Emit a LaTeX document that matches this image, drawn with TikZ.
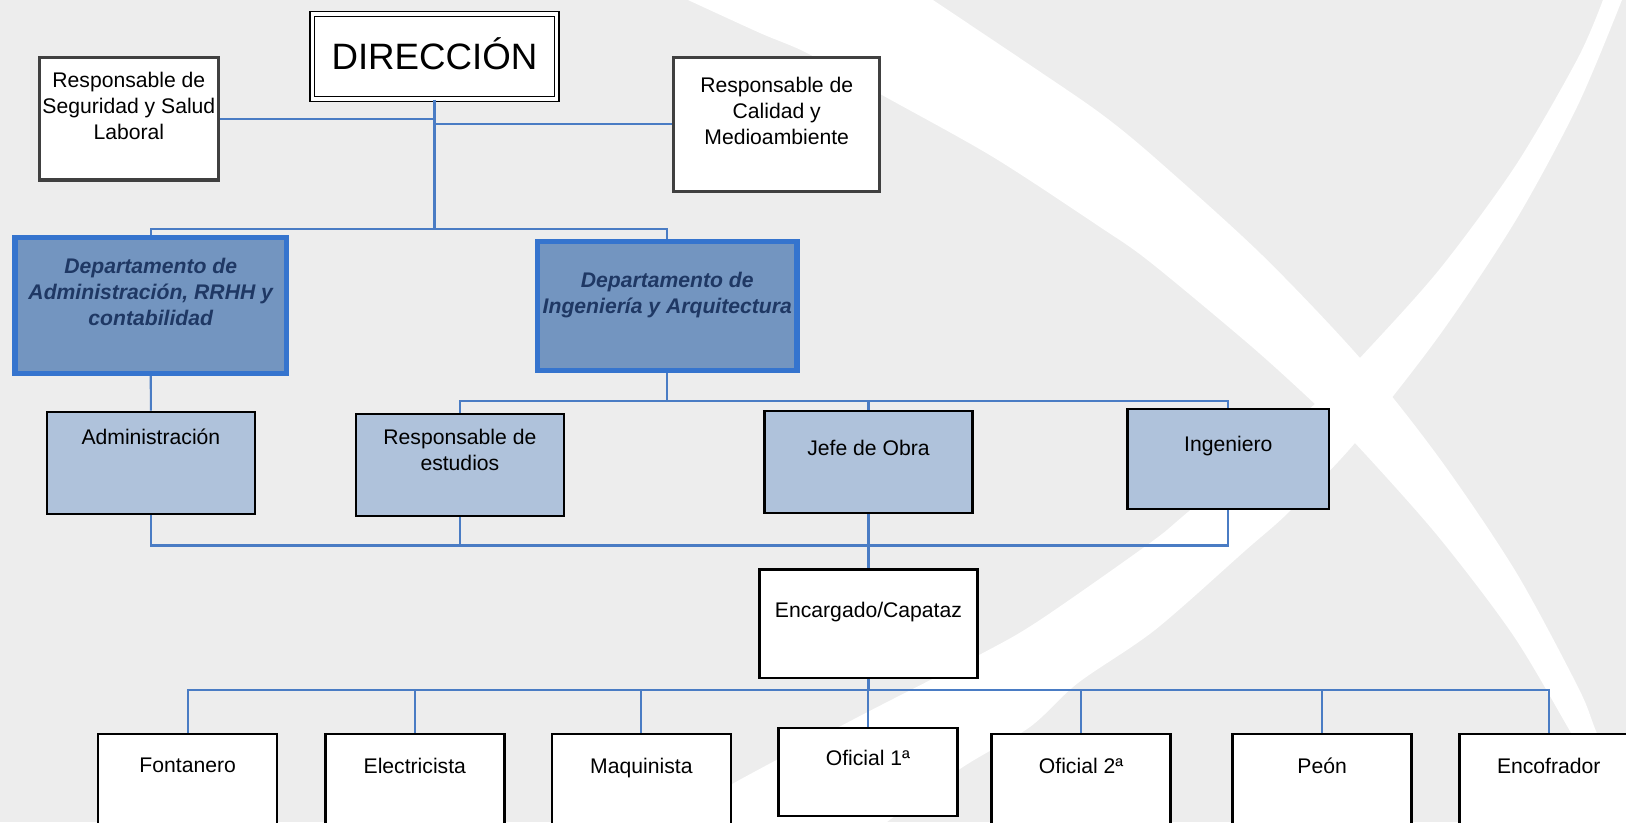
\documentclass[tikz,border=0pt]{standalone}
\usepackage{fontspec}
\setmainfont{Liberation Sans}
\definecolor{bggray}{HTML}{EDEDED}
\definecolor{linkblue}{HTML}{4A7CC4}
\definecolor{deptfill}{HTML}{7395C0}
\definecolor{deptline}{HTML}{3574CE}
\definecolor{depttext}{HTML}{1F3864}
\definecolor{lightfill}{HTML}{AFC2DB}
\definecolor{boxgray}{HTML}{404040}

\begin{document}
\begin{tikzpicture}[x=0.5pt, y=-0.5pt,
    txt/.style={anchor=north, yshift=-#1, inner sep=0pt, align=center, font=\fontsize{10.2}{12.5}\selectfont},
    dtxt/.style={txt=#1, font=\fontsize{10.2}{12.5}\selectfont\bfseries\itshape, text=depttext},
    wbox/.style 2 args={draw=black, fill=white, line width=1.2pt, minimum width=#1, minimum height=#2, inner sep=0pt},
    gbox/.style 2 args={wbox={#1}{#2}, draw=boxgray, line width=1.6pt},
    lbox/.style 2 args={wbox={#1}{#2}, fill=lightfill},
    dbox/.style 2 args={wbox={#1}{#2}, draw=deptline, fill=deptfill, line width=2.6pt},
    link/.style={draw=linkblue, line width=1pt}]
    \clip (0,0) rectangle (1568,793);
    \fill[bggray] (0,0) rectangle (1568,793);
% white bands behind the chart
\begin{scope}[scale=0.9643]
    \fill[white] plot[smooth] coordinates {(933,0) (1033,67) (1100,113) (1154,157) (1261,254) (1360,358) (1440,459) (1516,572) (1578,687) (1596,731) (1632,822)}
      -- plot[smooth] coordinates {(1622,822) (1570,731) (1513,635) (1437,535) (1355,443) (1315,404) (1251,346) (1150,262) (1100,227) (993,157) (882,95) (807,53) (760,33) (688,0)} -- cycle;
    \fill[white] plot[smooth] coordinates {(1603,0) (1578,58) (1516,165) (1439,270) (1360,358) (1315,404) (1188,512) (1150,543) (1040,620) (983,653) (860,716) (734,783) (670,822)}
      -- plot[smooth] coordinates {(887,822) (963,767) (1030,727) (1078,683) (1155,630) (1246,550) (1289,512) (1355,443) (1439,336) (1516,220) (1578,105) (1622,0)} -- cycle;
\end{scope}
    \node[wbox={117.9pt}{41pt}, line width=0.8pt, double=white, double distance=1.5pt, font=\fontsize{17.7}{20}\selectfont, text height=12.7pt, text depth=0pt] (dir) at (419,54.5) {DIRECCIÓN};
    \node[gbox={86.2pt}{59.2pt}, label={[txt=8pt]north:{Responsable de\\Seguridad y Salud\\Laboral}}] (seg) at (124.25,114.45) {};
    \node[gbox={99.4pt}{64.4pt}, label={[txt=9.9pt]north:{Responsable de\\Calidad y\\Medioambiente}}] (cal) at (749,120) {};
    \node[dbox={130.9pt}{65.4pt}, label={[dtxt=11pt]north:{Departamento de\\Administración, RRHH y\\contabilidad}}] (dadm) at (145.35,294.6) {};
    \node[dbox={124.9pt}{62.4pt}, label={[dtxt=16pt]north:{Departamento de\\Ingeniería y Arquitectura}}] (ding) at (643.5,295) {};
    \node[lbox={100.3pt}{49.3pt}, label={[txt=8.4pt]north:Administración}] (adm) at (145.5,446.5) {};
    \node[lbox={100.3pt}{49.3pt}, label={[txt=7.8pt]north:{Responsable de\\estudios}}] (est) at (443.5,448.5) {};
    \node[lbox={100.3pt}{49.3pt}, label={[txt=14.3pt]north:Jefe de Obra}] (jefe) at (837.5,445.5) {};
    \node[lbox={97.3pt}{48.3pt}, label={[txt=13.8pt]north:Ingeniero}] (ing) at (1184.5,442.5) {};
    \node[wbox={105.3pt}{52.3pt}, label={[txt=16.3pt]north:Encargado/Capataz}] (enc) at (837.5,601.5) {};
    \node[wbox={86.2pt}{42.5pt}, label={[txt=11.3pt]north:Oficial 1ª}] (of1) at (837,744.4) {};
    \foreach \x/\n/\lab in {181/fon/Fontanero, 400/ele/Electricista, 618.5/maq/Maquinista, 1042.5/of2/Oficial 2ª, 1275/peon/Peón, 1493.5/encof/Encofrador}
      \node[wbox={86.3pt}{66pt}, label={[txt=11.8pt]north:\lab}] (\n) at (\x,774) {};
% connector rows
    \coordinate (b1) at (0,220.8);
    \coordinate (b2) at (0,387);
    \coordinate (b3) at (0,526);
    \coordinate (b4) at (0,665.5);
    \draw[link] (seg.east) -- (seg.east -| dir.south);
    \draw[link] (cal.west) -- (cal.west -| dir.south);
    \foreach \n in {dadm,ding}
      \draw[link] (dir.south) |- (b1 -| \n.north) -- (\n.north);
    \draw[link] (dadm.south) -- (adm.north);
    \foreach \n in {est,jefe,ing}
      \draw[link] (ding.south) |- (b2 -| \n.north) -- (\n.north);
    \foreach \n in {adm,est,jefe,ing}
      \draw[link] (\n.south) |- (b3 -| enc.north) -- (enc.north);
    \foreach \n in {fon,ele,maq,of1,of2,peon,encof}
      \draw[link] (enc.south) |- (b4 -| \n.north) -- (\n.north);
\end{tikzpicture}
\end{document}
